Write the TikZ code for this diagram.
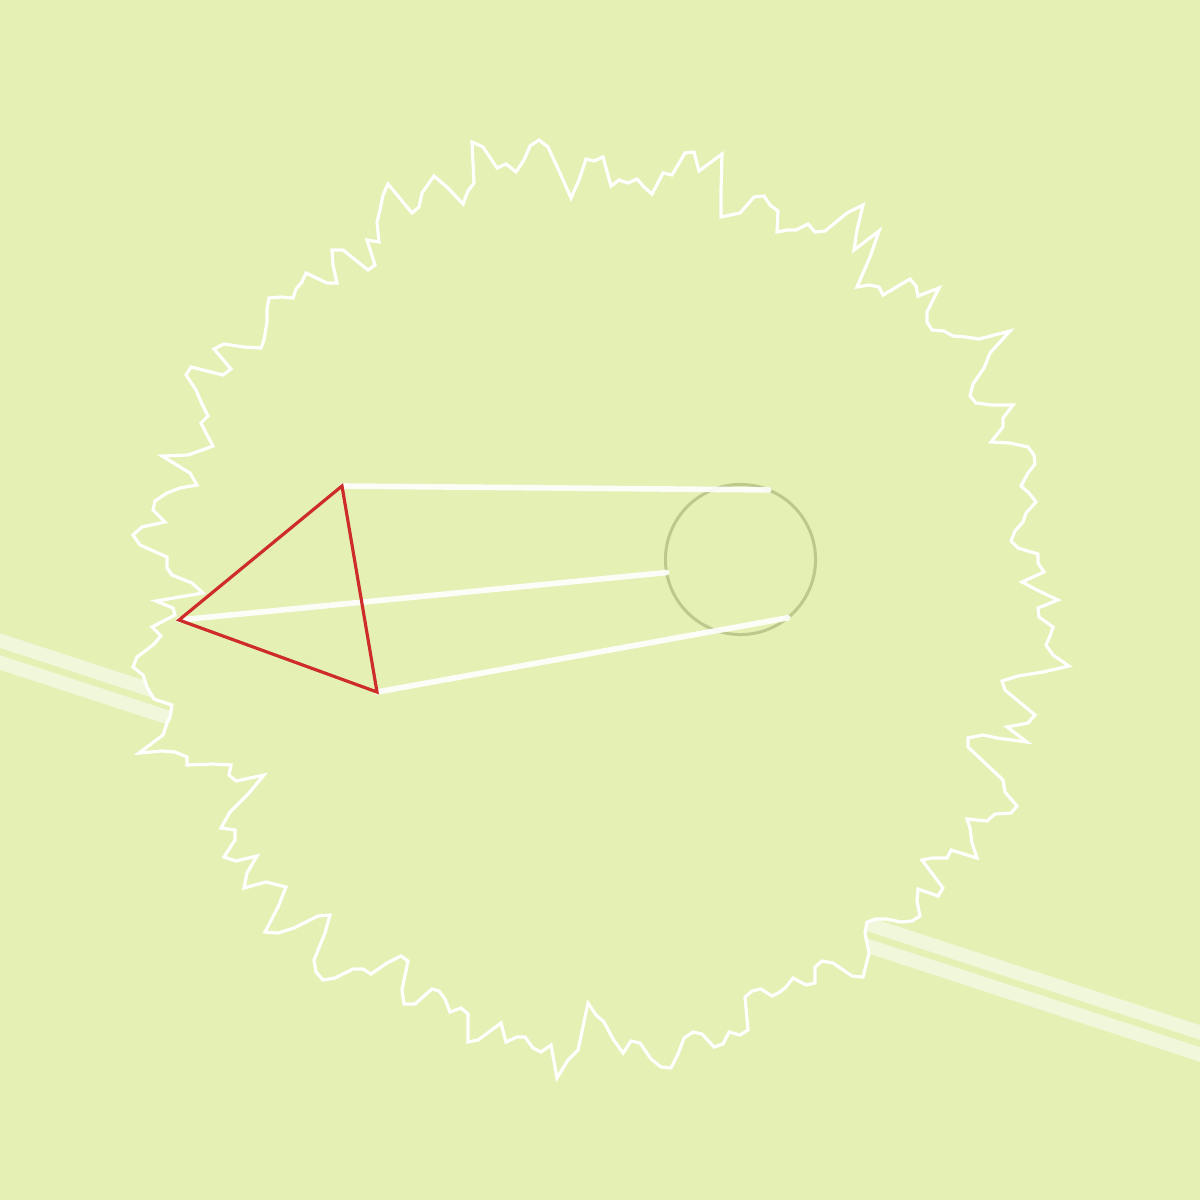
\documentclass[tikz,border=0pt]{standalone}
\usepackage{tikz}
\usetikzlibrary{positioning,calc}

\definecolor{meadow}{RGB}{228,240,180}
\definecolor{trackpale}{RGB}{241,247,218}
\definecolor{rimolive}{RGB}{188,200,140}
\definecolor{wedgered}{RGB}{206,44,40}

\begin{document}
\begin{tikzpicture}[x=0.01cm, y=-0.01cm,
    track/.style={line width=4pt, trackpale, double=meadow, double distance=1.9pt},
    rim/.style={draw=white, line width=0.9pt, fill=meadow},
    ray/.style={white, opacity=0.9, line width=1.6pt, line cap=round},
    wedge/.style={wedgered, line width=0.9pt, line join=miter}]
% Background
\useasboundingbox (0,0) rectangle (1200,1200);
\clip (0,0) rectangle (1200,1200);
\fill[meadow] (0,0) rectangle (1200,1200);

% Double track behind the disk
\coordinate (track west) at (-40,638.5);
\coordinate (track east) at (1240,1056.5);
\draw[track] (track west) -- (track east);

% Jagged disk
\draw[rim] (472,142) -- (483,147) -- (497,168) -- (506,164) -- (516,172) -- (524,160) -- (530,146) -- (539,140)
  -- (548,147) -- (560,173) -- (571,198) -- (579,180) -- (586,159) -- (594,161) -- (603,157) -- (611,186)
  -- (619,180) -- (628,183) -- (637,179) -- (644,187) -- (652,194) -- (663,173) -- (672,175) -- (685,153)
  -- (694,152) -- (699,171) -- (722,154) -- (721,190) -- (721,217) -- (740,213) -- (754,197) -- (764,196)
  -- (770,205) -- (778,211) -- (777,232) -- (787,230) -- (796,230) -- (808,224) -- (815,232) -- (825,231)
  -- (847,213) -- (863,205) -- (857,230) -- (854,250) -- (879,231) -- (870,257) -- (857,287) -- (869,285)
  -- (879,287) -- (883,295) -- (910,279) -- (916,286) -- (918,296) -- (939,288) -- (927,312) -- (927,322)
  -- (932,330) -- (944,331) -- (953,336) -- (966,337) -- (979,339) -- (1010,331) -- (990,353) -- (984,368)
  -- (973,384) -- (970,396) -- (976,403) -- (992,405) -- (1013,405) -- (1003,418) -- (1003,427) -- (991,442)
  -- (1010,443) -- (1028,447) -- (1034,455) -- (1035,464) -- (1028,473) -- (1021,486) -- (1029,493) -- (1036,502)
  -- (1026,513) -- (1023,522) -- (1015,531) -- (1011,541) -- (1018,548) -- (1038,554) -- (1038,563) -- (1044,572)
  -- (1022,582) -- (1037,590) -- (1058,600) -- (1038,608) -- (1039,617) -- (1053,627) -- (1050,636) -- (1046,645)
  -- (1053,655) -- (1069,666) -- (1043,672) -- (1018,676) -- (1002,681) -- (1005,690) -- (1035,715) -- (1028,723)
  -- (1007,727) -- (1027,742) -- (997,738) -- (983,735) -- (968,738) -- (968,747) -- (1003,780) -- (1005,792)
  -- (1017,806) -- (1011,813) -- (995,814) -- (987,821) -- (967,819) -- (970,828) -- (972,843) -- (977,858)
  -- (951,850) -- (947,858) -- (932,858) -- (922,860) -- (943,888) -- (938,896) -- (918,889) -- (917,901)
  -- (920,916) -- (912,921) -- (901,922) -- (886,919) -- (876,919) -- (867,922) -- (865,933) -- (869,953)
  -- (863,977) -- (852,976) -- (833,963) -- (822,961) -- (815,967) -- (815,983) -- (806,985) -- (793,978)
  -- (786,987) -- (780,992) -- (772,996) -- (761,989) -- (752,991) -- (745,997) -- (748,1030) -- (740,1035)
  -- (729,1032) -- (723,1044) -- (714,1047) -- (702,1034) -- (693,1032) -- (684,1038) -- (678,1054) -- (671,1068)
  -- (661,1067) -- (651,1059) -- (640,1043) -- (631,1041) -- (623,1053) -- (613,1039) -- (604,1022) -- (596,1015)
  -- (588,1003) -- (578,1050) -- (568,1060) -- (557,1078) -- (551,1045) -- (541,1052) -- (533,1048) -- (525,1037)
  -- (517,1037) -- (506,1042) -- (501,1023) -- (489,1032) -- (478,1040) -- (468,1042) -- (468,1014) -- (461,1008)
  -- (450,1012) -- (445,999) -- (439,991) -- (432,989) -- (415,1004) -- (404,1004) -- (402,990) -- (408,961)
  -- (401,956) -- (387,963) -- (371,974) -- (363,969) -- (353,969) -- (335,978) -- (323,980) -- (316,972)
  -- (314,960) -- (325,933) -- (330,915) -- (318,916) -- (294,928) -- (278,933) -- (265,932) -- (278,907)
  -- (286,887) -- (266,882) -- (244,888) -- (247,873) -- (257,856) -- (236,861) -- (224,857) -- (235,840)
  -- (235,830) -- (221,828) -- (230,812) -- (249,793) -- (264,775) -- (236,781) -- (229,775) -- (231,765)
  -- (213,764) -- (187,765) -- (187,757) -- (175,752) -- (162,751) -- (139,753) -- (163,735) -- (167,723)
  -- (170,717) -- (172,705) -- (154,699) -- (147,687) -- (143,675) -- (133,667) -- (137,657) -- (153,645)
  -- (161,636) -- (152,627) -- (175,615) -- (173,608) -- (156,601) -- (203,593) -- (192,583) -- (172,575)
  -- (167,568) -- (167,557) -- (140,545) -- (133,535) -- (142,527) -- (165,522) -- (153,510) -- (155,501)
  -- (167,493) -- (180,488) -- (197,485) -- (190,473) -- (162,456) -- (188,455) -- (202,450) -- (213,446)
  -- (206,433) -- (201,423) -- (208,416) -- (202,404) -- (196,390) -- (186,375) -- (191,367) -- (223,375)
  -- (231,369) -- (214,349) -- (224,344) -- (244,347) -- (261,348) -- (264,340) -- (267,322) -- (267,309)
  -- (269,298) -- (281,297) -- (293,298) -- (296,289) -- (302,282) -- (306,273) -- (327,283) -- (337,283)
  -- (333,265) -- (332,250) -- (343,250) -- (368,270) -- (375,265) -- (367,240) -- (379,242) -- (377,222)
  -- (380,210) -- (383,195) -- (388,184) -- (412,213) -- (419,207) -- (422,193) -- (434,176) -- (448,188)
  -- (463,204) -- (468,191) -- (474,183) -- cycle;

% Target ring
\node[circle, draw=rimolive, line width=0.85pt, minimum size=1.5cm, inner sep=0pt, outer sep=0pt] (ring) at (740.5,559.5) {};

% Triangle corners
\coordinate (apex) at (342,486);
\coordinate (tip) at (179,620);
\coordinate (heel) at (377,692);

% Rays to the ring
\draw[ray] (apex) -- (ring.68);
\draw[ray] (tip) -- (ring.190);
\draw[ray] (heel) -- (ring.-51);

% Triangle
\draw[wedge] (apex) -- (tip) -- (heel) -- cycle;
\end{tikzpicture}
\end{document}
